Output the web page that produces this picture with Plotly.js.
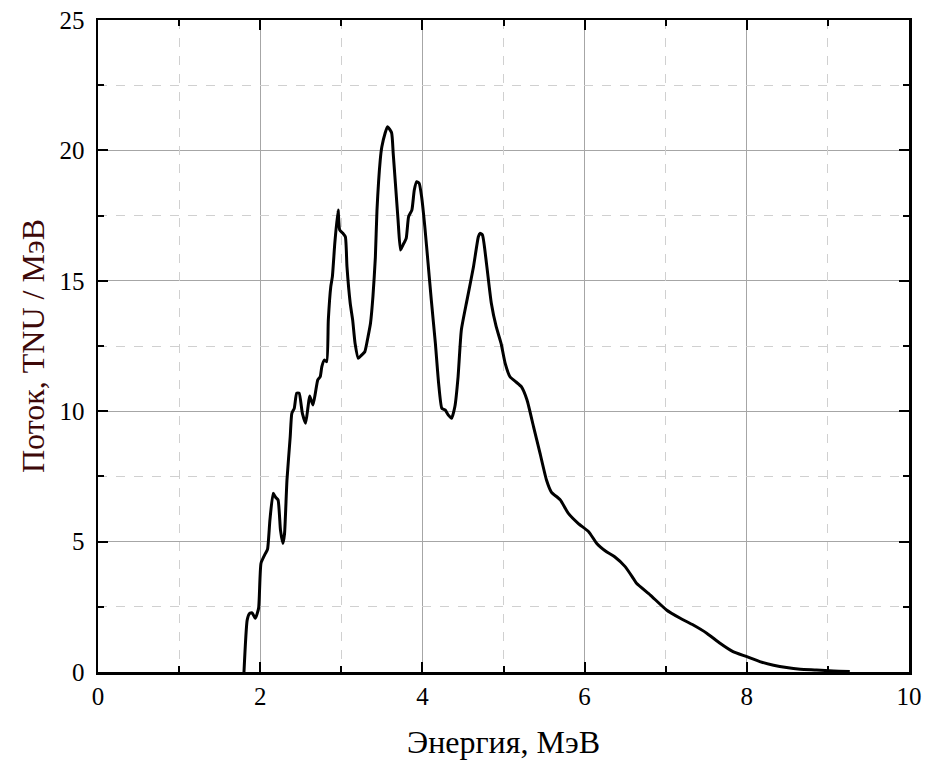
<!DOCTYPE html>
<html>
<head>
<meta charset="utf-8">
<script src="https://cdn.plot.ly/plotly-3.0.1.min.js"></script>
<style>html,body{margin:0;padding:0;background:#fff;}#chart{width:930px;height:767px;}</style>
</head>
<body>
<div id="chart"></div>
<script>
const energy = [1.80,1.84,1.87,1.90,1.94,1.98,2.01,2.06,2.09,2.12,2.16,2.19,2.22,2.25,2.28,2.30,2.33,
  2.37,2.39,2.42,2.45,2.48,2.52,2.56,2.59,2.61,2.65,2.68,2.71,2.74,2.76,2.79,2.82,2.84,2.87,2.89,2.92,2.96,
  2.98,3.02,3.05,3.07,3.11,3.14,3.17,3.21,3.25,3.29,3.33,3.36,3.39,3.42,3.44,3.48,3.50,3.54,3.57,3.62,3.64,
  3.67,3.70,3.73,3.76,3.80,3.83,3.87,3.90,3.93,3.96,3.99,4.03,4.07,4.11,4.16,4.20,4.24,4.28,4.32,4.36,4.40,
  4.44,4.48,4.55,4.63,4.69,4.71,4.74,4.79,4.85,4.91,4.97,5.02,5.08,5.15,5.22,5.29,5.37,5.45,5.53,5.59,
  5.70,5.80,5.92,6.05,6.15,6.27,6.37,6.50,6.60,6.64,6.81,7.01,7.18,7.34,7.51,7.67,7.83,8.00,8.16,8.33,
  8.49,8.66,8.86,9.07,9.27];
const flux = [0,2.0,2.25,2.27,2.06,2.44,4.17,4.52,4.70,5.83,6.85,6.70,6.60,5.44,4.93,5.30,7.36,
  9.02,9.92,10.11,10.69,10.69,9.92,9.54,10.17,10.58,10.24,10.69,11.20,11.32,11.71,11.96,11.90,13.50,14.77,15.16,16.44,17.71,
  16.95,16.82,16.69,15.54,14.14,13.50,12.60,12.03,12.15,12.28,12.86,13.37,14.39,15.90,17.71,19.63,20.14,20.66,20.91,20.68,19.89,
  18.61,17.33,16.18,16.37,16.63,17.46,17.71,18.48,18.80,18.74,18.23,17.07,15.67,14.26,12.60,11.07,10.11,10.05,9.85,9.73,10.17,
  11.32,13.11,14.26,15.54,16.69,16.82,16.76,15.67,14.14,13.24,12.60,11.84,11.32,11.13,10.94,10.43,9.41,8.39,7.36,6.90,
  6.60,6.08,5.70,5.38,4.93,4.61,4.42,4.04,3.59,3.40,2.95,2.38,2.06,1.80,1.48,1.10,0.78,0.59,0.40,0.26,
  0.17,0.11,0.08,0.04,0.02];

const xMinorVals = [1, 3, 5, 7, 9];
const yMinorVals = [2.5, 7.5, 12.5, 17.5, 22.5];

const xTitle = 'Энергия, МэВ';
const yTitle = 'Поток, TNU / МэВ';

const font = 'Liberation Serif';

const trace = {
  x: energy, y: flux, type: 'scatter', mode: 'lines',
  line: {color: '#000', width: 3, shape: 'spline', smoothing: 0.5},
  hoverinfo: 'skip'
};

const layout = {
  width: 930, height: 767,
  margin: {l: 98, r: 21, t: 20, b: 95},
  paper_bgcolor: '#fff', plot_bgcolor: '#fff',
  font: {family: font, size: 25, color: '#000'},
  showlegend: false,
  xaxis: {
    range: [0, 10], dtick: 2, tick0: 0,
    showline: true, linecolor: '#000', linewidth: 2.5, mirror: 'ticks',
    ticks: 'inside', ticklen: 10, tickwidth: 2, tickcolor: '#000',
    showgrid: true, gridcolor: '#a6a6a6', gridwidth: 1, zeroline: false,
    tickfont: {family: font, size: 25, color: '#000'},
    title: {text: xTitle, font: {family: font, size: 32, color: '#000'}, standoff: 22}
  },
  yaxis: {
    range: [0, 25], dtick: 5, tick0: 0,
    showline: true, linecolor: '#000', linewidth: 2.5, mirror: 'ticks',
    ticks: 'inside', ticklen: 10, tickwidth: 2, tickcolor: '#000',
    showgrid: true, gridcolor: '#a6a6a6', gridwidth: 1, zeroline: false,
    tickfont: {family: font, size: 25, color: '#000'},
    ticklabelstandoff: 6,
    title: {text: yTitle, font: {family: font, size: 32, color: '#3d0808'}, standoff: 6}
  },
  xaxis2: {
    overlaying: 'x', anchor: 'y2', range: [0, 10], tickmode: 'array', tickvals: xMinorVals,
    showticklabels: false, showline: false, mirror: 'ticks',
    ticks: 'inside', ticklen: 6, tickwidth: 2, tickcolor: '#000',
    showgrid: true, gridcolor: '#d0d0d0', griddash: 'dash', gridwidth: 1, zeroline: false
  },
  yaxis2: {
    overlaying: 'y', anchor: 'x2', range: [0, 25], tickmode: 'array', tickvals: yMinorVals,
    showticklabels: false, showline: false, mirror: 'ticks',
    ticks: 'inside', ticklen: 6, tickwidth: 2, tickcolor: '#000',
    showgrid: true, gridcolor: '#d0d0d0', griddash: 'dash', gridwidth: 1, zeroline: false
  }
};

const helper = {x: [0], y: [0], xaxis: 'x2', yaxis: 'y2', type: 'scatter', mode: 'none', hoverinfo: 'skip'};

Plotly.newPlot('chart', [helper, trace], layout, {displayModeBar: false, staticPlot: true});
</script>
</body>
</html>
